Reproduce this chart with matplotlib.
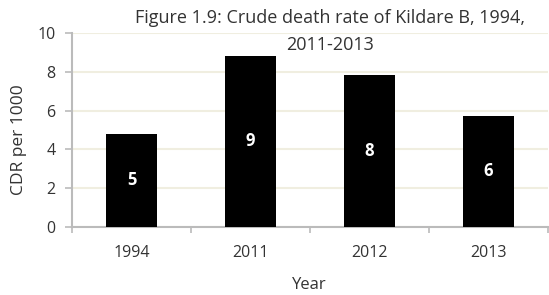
import matplotlib
matplotlib.use("Agg")
import matplotlib.pyplot as plt
import numpy as np

categories = ["1994", "2011", "2012", "2013"]
values = [4.78, 8.83, 7.86, 5.72]
labels = ["5", "9", "8", "6"]

plt.rcParams['font.family'] = ['Open Sans', 'DejaVu Sans']

W, H = 549, 295
fig = plt.figure(figsize=(W/100, H/100), dpi=100)
ax = fig.add_axes([72/W, 1-226.7/H, (548-72)/W, (226.7-33.3)/H])

x = np.arange(len(categories))
ax.bar(x, values, width=0.43, color='black', zorder=3)
for xi, v, lab in zip(x, values, labels):
    ax.text(xi, v/2, lab, ha='center', va='center', color='white',
            fontsize=12, fontweight='bold', zorder=4)

ax.set_xlim(-0.5, len(categories)-0.5)
ax.set_ylim(0, 10)
ax.set_yticks([0, 2, 4, 6, 8, 10])
ax.yaxis.grid(True, color='#f0eee0', linewidth=1.5, zorder=0)
ax.set_axisbelow(True)

ax.set_xticks(x)
ax.set_xticklabels(categories)
ax.set_xticks(np.arange(-0.5, len(categories)), minor=True)
ax.tick_params(axis='x', which='major', length=0, pad=13, labelsize=11.5, colors='#333333')
ax.tick_params(axis='x', which='minor', length=4, color='#bbbbbb', width=1.2)
ax.tick_params(axis='y', length=5, color='#bbbbbb', width=1.2, labelsize=11.5,
               labelcolor='#333333', pad=7)

for s in ['top', 'right']:
    ax.spines[s].set_visible(False)
for s in ['left', 'bottom']:
    ax.spines[s].set_color('#bbbbbb')
    ax.spines[s].set_linewidth(1.5)

fig.text(309/W, 1-285/H, "Year", ha='center', va='center', fontsize=12, color='#333333')
fig.text(19/W, 1-140/H, "CDR per 1000", ha='center', va='center', rotation=90,
         fontsize=12.5, color='#333333')

fig.text(330/W, 1-18/H, "Figure 1.9: Crude death rate of Kildare B, 1994,",
         ha='center', va='center', fontsize=13, color='#333333')
fig.text(330/W, 1-45/H, "2011-2013",
         ha='center', va='center', fontsize=13, color='#333333')

fig.savefig("out.png", dpi=100)
